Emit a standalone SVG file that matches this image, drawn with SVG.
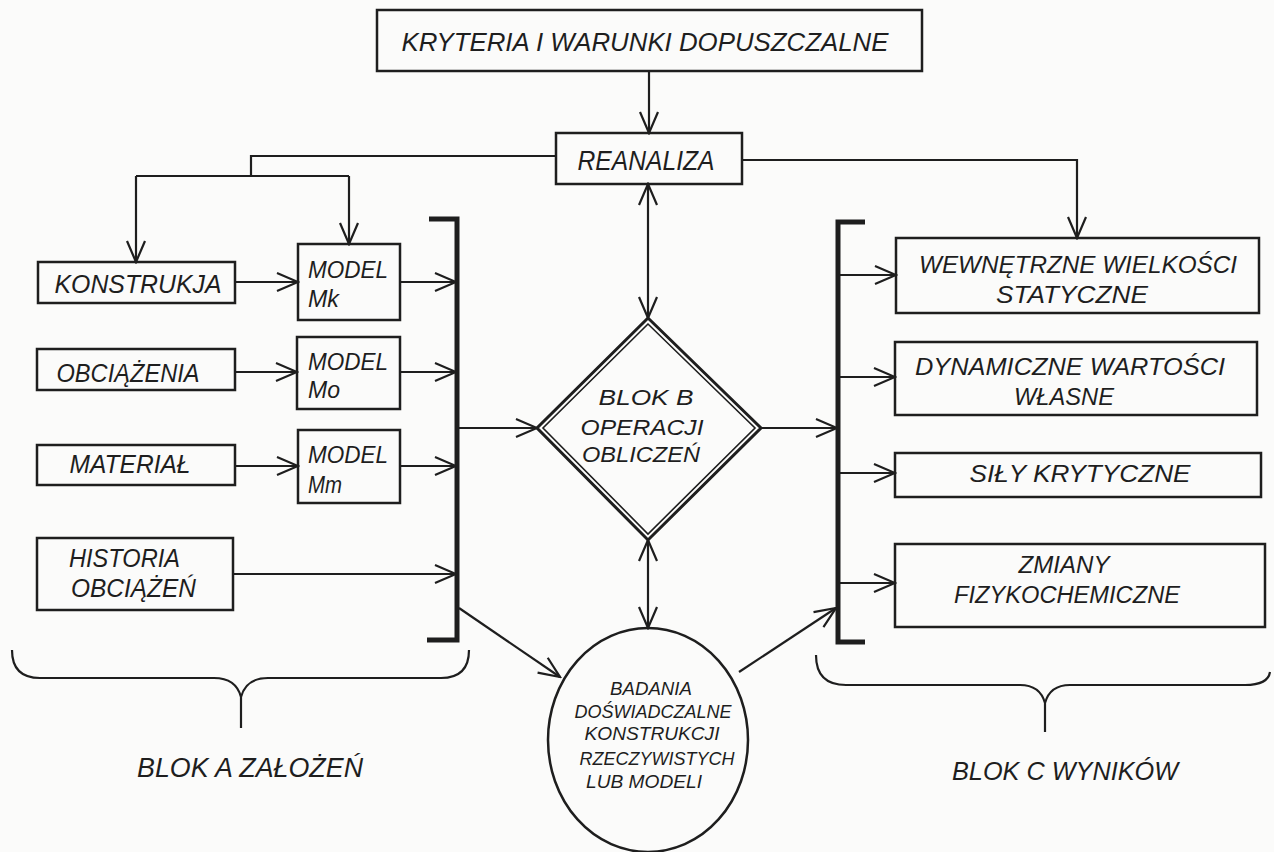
<svg xmlns="http://www.w3.org/2000/svg" width="1274" height="852" viewBox="0 0 1274 852">
<style>
.box{fill:none;stroke:#1e1e1e;stroke-width:2.5}
.ln{fill:none;stroke:#1e1e1e;stroke-width:2.2}
.bar{fill:none;stroke:#1e1e1e;stroke-width:5;stroke-linejoin:miter}
text{font-family:"Liberation Sans",Arial,sans-serif;font-style:italic;fill:#1e1e1e;text-anchor:middle}
.s{text-anchor:start}
</style>
<defs>
<marker id="arr" viewBox="-24 -12 26 24" refX="0" refY="0" markerWidth="26" markerHeight="24" markerUnits="userSpaceOnUse" orient="auto-start-reverse">
<path d="M-21,-9 L0,0 L-21,9" fill="none" stroke="#1e1e1e" stroke-width="2.2"/>
</marker>
</defs>
<rect x="0" y="0" width="1274" height="852" fill="#fbfbfa"/>

<g id="connectors">
<line class="ln" x1="649" y1="71" x2="649" y2="133" marker-end="url(#arr)"/>
<polyline class="ln" points="556,156 251,156 251,176"/>
<line class="ln" x1="136" y1="176" x2="349" y2="176"/>
<line class="ln" x1="136" y1="176" x2="136" y2="262" marker-end="url(#arr)"/>
<line class="ln" x1="349" y1="176" x2="349" y2="244" marker-end="url(#arr)"/>
<polyline class="ln" points="742,160 1077,160 1077,238" marker-end="url(#arr)"/>
<line class="ln" x1="648" y1="184" x2="648" y2="318" marker-start="url(#arr)" marker-end="url(#arr)"/>
<line class="ln" x1="648" y1="540" x2="648" y2="628" marker-start="url(#arr)" marker-end="url(#arr)"/>
<line class="ln" x1="235" y1="282" x2="298" y2="282" marker-end="url(#arr)"/>
<line class="ln" x1="235" y1="372" x2="297" y2="372" marker-end="url(#arr)"/>
<line class="ln" x1="235" y1="466" x2="298" y2="466" marker-end="url(#arr)"/>
<line class="ln" x1="400" y1="282" x2="456" y2="282" marker-end="url(#arr)"/>
<line class="ln" x1="400" y1="372" x2="456" y2="372" marker-end="url(#arr)"/>
<line class="ln" x1="400" y1="466" x2="456" y2="466" marker-end="url(#arr)"/>
<line class="ln" x1="233" y1="574" x2="456" y2="574" marker-end="url(#arr)"/>
<line class="ln" x1="459" y1="428" x2="537" y2="428" marker-end="url(#arr)"/>
<line class="ln" x1="459" y1="608" x2="560" y2="677" marker-end="url(#arr)"/>
<line class="ln" x1="761" y1="428" x2="837" y2="428" marker-end="url(#arr)"/>
<line class="ln" x1="739" y1="672" x2="836" y2="608" marker-end="url(#arr)"/>
<line class="ln" x1="840" y1="275" x2="896" y2="275" marker-end="url(#arr)"/>
<line class="ln" x1="840" y1="377" x2="895" y2="377" marker-end="url(#arr)"/>
<line class="ln" x1="840" y1="473" x2="895" y2="473" marker-end="url(#arr)"/>
<line class="ln" x1="840" y1="583" x2="895" y2="583" marker-end="url(#arr)"/>
</g>

<g id="bracket-a">
<polyline class="bar" points="429,219 457,219 457,640 427,640"/>
</g>
<g id="bracket-c">
<polyline class="bar" points="865,222 838,222 838,642 865,642"/>
</g>

<g id="kryteria">
<rect class="box" x="377" y="10" width="545" height="61"/>
<text x="645" y="51" font-size="25" textLength="487" lengthAdjust="spacingAndGlyphs">KRYTERIA  I  WARUNKI  DOPUSZCZALNE</text>
</g>
<g id="reanaliza">
<rect class="box" x="556" y="133" width="186" height="51"/>
<text x="646" y="170" font-size="27" textLength="137" lengthAdjust="spacingAndGlyphs">REANALIZA</text>
</g>

<g id="konstrukja">
<rect class="box" x="38" y="262" width="197" height="41"/>
<text x="138" y="293" font-size="26" textLength="167" lengthAdjust="spacingAndGlyphs">KONSTRUKJA</text>
</g>
<g id="model-mk">
<rect class="box" x="298" y="244" width="102" height="76"/>
<text class="s" x="308" y="278" font-size="24" textLength="80" lengthAdjust="spacingAndGlyphs">MODEL</text>
<text class="s" x="308" y="307" font-size="24" textLength="31" lengthAdjust="spacingAndGlyphs">Mk</text>
</g>
<g id="obciazenia">
<rect class="box" x="37" y="349" width="198" height="41"/>
<text x="128" y="382" font-size="26" textLength="143" lengthAdjust="spacingAndGlyphs">OBCIĄŻENIA</text>
</g>
<g id="model-mo">
<rect class="box" x="297" y="337" width="103" height="72"/>
<text class="s" x="308" y="370" font-size="24" textLength="80" lengthAdjust="spacingAndGlyphs">MODEL</text>
<text class="s" x="308" y="398" font-size="24" textLength="32" lengthAdjust="spacingAndGlyphs">Mo</text>
</g>
<g id="material">
<rect class="box" x="37" y="445" width="198" height="40"/>
<text x="130" y="473" font-size="26" textLength="121" lengthAdjust="spacingAndGlyphs">MATERIAŁ</text>
</g>
<g id="model-mm">
<rect class="box" x="298" y="430" width="102" height="73"/>
<text class="s" x="308" y="463" font-size="24" textLength="80" lengthAdjust="spacingAndGlyphs">MODEL</text>
<text class="s" x="308" y="493" font-size="24" textLength="34" lengthAdjust="spacingAndGlyphs">Mm</text>
</g>
<g id="historia">
<rect class="box" x="37" y="538" width="196" height="72"/>
<text class="s" x="69" y="567" font-size="25" textLength="111" lengthAdjust="spacingAndGlyphs">HISTORIA</text>
<text class="s" x="71" y="597" font-size="25" textLength="125" lengthAdjust="spacingAndGlyphs">OBCIĄŻEŃ</text>
</g>

<g id="blok-b">
<polygon points="648,318 537,428 648,540 761,428" fill="none" stroke="#1e1e1e" stroke-width="3"/>
<polygon points="648,324 543,428 648,534 755,428" fill="none" stroke="#1e1e1e" stroke-width="1.6"/>
<text x="646" y="405" font-size="22" textLength="95" lengthAdjust="spacingAndGlyphs">BLOK  B</text>
<text x="642" y="435" font-size="22" textLength="123" lengthAdjust="spacingAndGlyphs">OPERACJI</text>
<text x="641" y="462" font-size="22" textLength="118" lengthAdjust="spacingAndGlyphs">OBLICZEŃ</text>
</g>

<g id="badania">
<ellipse cx="648" cy="740" rx="100" ry="112" fill="none" stroke="#1e1e1e" stroke-width="2.5"/>
<text x="651" y="695" font-size="18" textLength="82" lengthAdjust="spacingAndGlyphs">BADANIA</text>
<text x="653" y="718" font-size="18" textLength="157" lengthAdjust="spacingAndGlyphs">DOŚWIADCZALNE</text>
<text x="652" y="740" font-size="18" textLength="135" lengthAdjust="spacingAndGlyphs">KONSTRUKCJI</text>
<text x="657" y="765" font-size="18" textLength="155" lengthAdjust="spacingAndGlyphs">RZECZYWISTYCH</text>
<text x="644" y="788" font-size="18" textLength="116" lengthAdjust="spacingAndGlyphs">LUB  MODELI</text>
</g>

<g id="wewnetrzne">
<rect class="box" x="896" y="238" width="363" height="75"/>
<text x="1078" y="273" font-size="23" textLength="318" lengthAdjust="spacingAndGlyphs">WEWNĘTRZNE  WIELKOŚCI</text>
<text x="1072" y="303" font-size="23" textLength="152" lengthAdjust="spacingAndGlyphs">STATYCZNE</text>
</g>
<g id="dynamiczne">
<rect class="box" x="895" y="342" width="362" height="73"/>
<text x="1070" y="375" font-size="23" textLength="310" lengthAdjust="spacingAndGlyphs">DYNAMICZNE  WARTOŚCI</text>
<text x="1064" y="405" font-size="23" textLength="100" lengthAdjust="spacingAndGlyphs">WŁASNE</text>
</g>
<g id="sily">
<rect class="box" x="895" y="453" width="366" height="44"/>
<text x="1080" y="482" font-size="23" textLength="221" lengthAdjust="spacingAndGlyphs">SIŁY  KRYTYCZNE</text>
</g>
<g id="zmiany">
<rect class="box" x="895" y="544" width="370" height="83"/>
<text x="1064" y="573" font-size="23" textLength="91" lengthAdjust="spacingAndGlyphs">ZMIANY</text>
<text x="1067" y="603" font-size="23" textLength="226" lengthAdjust="spacingAndGlyphs">FIZYKOCHEMICZNE</text>
</g>

<g id="blok-a">
<path class="ln" d="M12,650 Q12,678 40,678 L214,678 Q236,678 241,697 Q246,678 268,678 L441,678 Q469,678 469,650 M241,697 L241,728"/>
<text x="250" y="777" font-size="27" textLength="226" lengthAdjust="spacingAndGlyphs">BLOK  A  ZAŁOŻEŃ</text>
</g>
<g id="blok-c">
<path class="ln" d="M816,655 Q816,685 846,685 L1020,685 Q1040,685 1045,703 Q1050,685 1070,685 L1245,685 Q1268,685 1270,672 M1045,703 L1045,732"/>
<text x="1065" y="780" font-size="26" textLength="226" lengthAdjust="spacingAndGlyphs">BLOK  C  WYNIKÓW</text>
</g>
</svg>
